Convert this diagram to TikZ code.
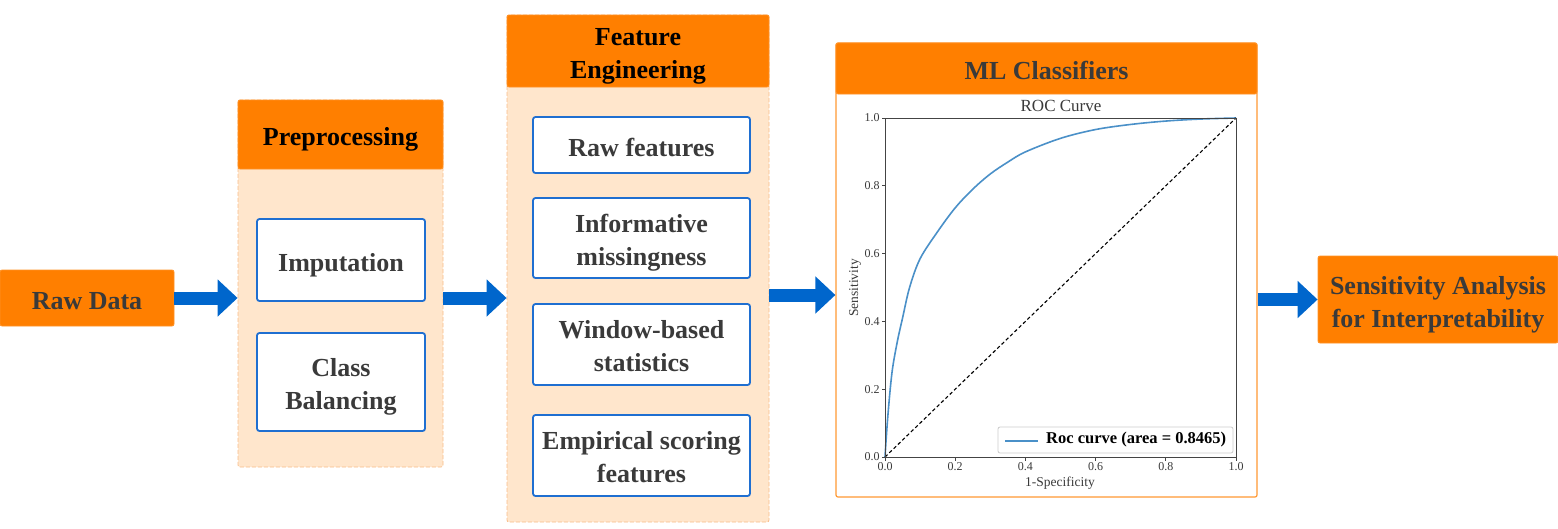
\documentclass[tikz,border=0pt]{standalone}
\usepackage{fontspec}
\setmainfont{Liberation Serif}
\usetikzlibrary{arrows.meta}
\definecolor{orangeC}{HTML}{FF7F00}
\definecolor{peachC}{HTML}{FFE6CC}
\definecolor{peachD}{HTML}{F8BC88}
\definecolor{blueB}{HTML}{1F6FD1}
\definecolor{blueA}{HTML}{0066CC}
\definecolor{txtC}{HTML}{3A3A3A}
\definecolor{rocC}{HTML}{4A90C8}
\definecolor{axC}{HTML}{444444}
\newcommand\lowdesc{\rule{0pt}{27.6pt}}
\newcommand\lownodesc{\rule{0pt}{22pt}}
\begin{document}
\begin{tikzpicture}[x=1pt, y=-1pt,
  font=\fontsize{26}{33}\selectfont\bfseries,
  ob/.style={fill=orangeC, draw=orangeC!85!white, line width=0.8pt, rounded corners=2pt, inner sep=0pt, align=center, text=txtC},
  panelbox/.style={fill=peachC, draw=peachD, dashed, dash pattern=on 4pt off 2pt, line width=0.8pt, rounded corners=2pt, inner sep=0pt},
  bb/.style={fill=white, draw=blueB, line width=1.8pt, rounded corners=2.5pt, inner sep=0pt, align=center, text=txtC},
  one/.style={text height=22pt, text depth=0pt},
  flow/.style={blueA, line width=13pt, -{Triangle[width=36pt,length=20pt]}},
  plotlbl/.style={font=\normalfont\fontsize{12}{12}\selectfont, text=txtC, inner sep=1.5pt},
  axlbl/.style={font=\normalfont\fontsize{13.5}{14}\selectfont, text=txtC, inner sep=0pt}
]
\useasboundingbox (0,0) rectangle (1558,528);

% Raw data
\node[ob, one, minimum width=174pt, minimum height=56pt] (raw) at (87,298) {Raw Data};

% Preprocessing
\node[panelbox, minimum width=205pt, minimum height=367pt] (prepanel) at (340.5,283.5) {};
\node[ob, one, text=black, minimum width=205pt, minimum height=69pt] (prehead) at (340.5,134.5) {Preprocessing};
\node[bb, one, minimum width=168pt, minimum height=82pt] (imp) at (341,260) {Imputation};
\node[bb, minimum width=168pt, minimum height=98pt] (cb) at (341,382) {\lowdesc Class\\Balancing};

% Feature engineering
\node[panelbox, minimum width=262pt, minimum height=507pt] (fepanel) at (638,268.5) {};
\node[ob, text=black, minimum width=262pt, minimum height=72pt] (fehead) at (638,51) {\lowdesc Feature\\Engineering};
\node[bb, one, minimum width=217pt, minimum height=56pt] (rawf) at (641.5,145) {Raw features};
\node[bb, minimum width=217pt, minimum height=80pt] (info) at (641.5,238) {\lowdesc Informative\\missingness};
\node[bb, minimum width=217pt, minimum height=81pt] (win) at (641.5,344.5) {\lownodesc Window-based\\statistics};
\node[bb, minimum width=217pt, minimum height=81pt] (emp) at (641.5,455.5) {\lownodesc Empirical scoring\\features};

% ML classifiers
\node[fill=white, draw=orangeC!80!white, line width=1.2pt, rounded corners=2pt, minimum width=421pt, minimum height=454pt, inner sep=0pt] (mlpanel) at (1046.5,270) {};
\node[ob, one, minimum width=421pt, minimum height=51pt] (mlhead) at (1046.5,68.5) {ML Classifiers};

% ROC plot
\begin{scope}[shift={(885,457)}, x=351pt, y=339pt]
  \draw[rocC, line width=1.6pt] plot[smooth, tension=0.55] coordinates {
    (0,0) (0.008,0.12) (0.02,0.25) (0.035,0.34) (0.05,0.41) (0.07,0.50)
    (0.1,0.585) (0.15,0.665) (0.2,0.735) (0.25,0.79) (0.3,0.835) (0.35,0.87)
    (0.4,0.9) (0.5,0.94) (0.6,0.966) (0.7,0.981) (0.8,0.991) (0.9,0.997) (1,1)};
  \draw[black, line width=1.1pt, dash pattern=on 3.5pt off 2.5pt] (0,0) -- (1,1);
  \draw[axC, line width=1pt] (0,0) rectangle (1,1);
  \foreach \v in {0.0,0.2,0.4,0.6,0.8,1.0}{
    \draw[axC, line width=0.8pt] (\v,0) -- ++(0,-3.5pt) node[plotlbl, anchor=north] (xt\v) {\v};
    \draw[axC, line width=0.8pt] (0,\v) -- ++(-3.5pt,0) node[plotlbl, anchor=east] (yt\v) {\v};
  }
\end{scope}
\node[font=\normalfont\fontsize{17}{18}\selectfont, text=txtC, inner sep=0pt] (roct) at (1061,106) {ROC Curve};
\node[axlbl, rotate=90] (sensl) at (855,288) {Sensitivity};
\node[axlbl] (specl) at (1060,483) {1-Specificity};
\node[fill=white, draw=black!20, line width=0.8pt, rounded corners=2pt, minimum width=235pt, minimum height=26pt, inner sep=0pt] (leg) at (1115.5,440) {};
\coordinate (legA) at (1005,441);
\coordinate (legB) at (1038,441);
\draw[rocC, line width=1.3pt] (legA) -- (legB);
\node[anchor=west, font=\fontsize{16.5}{17}\selectfont\bfseries, text=black, inner sep=0pt] (legt) at (1046,440) {Roc curve (area = 0.8465)};

% Sensitivity analysis
\node[ob, minimum width=240pt, minimum height=87pt] (sens) at (1438,299.5) {\lowdesc Sensitivity Analysis\\for Interpretability};

% Arrows
\draw[flow] (raw.east) -- (raw.east -| prepanel.west);
\draw[flow] (prepanel.east |- raw.east) -- (fepanel.west |- raw.east);
\draw[flow] ([yshift=3pt]fepanel.east |- raw.east) -- ([yshift=3pt]mlpanel.west |- raw.east);
\draw[flow] (mlpanel.east |- sens.west) -- (sens.west);
\end{tikzpicture}
\end{document}
